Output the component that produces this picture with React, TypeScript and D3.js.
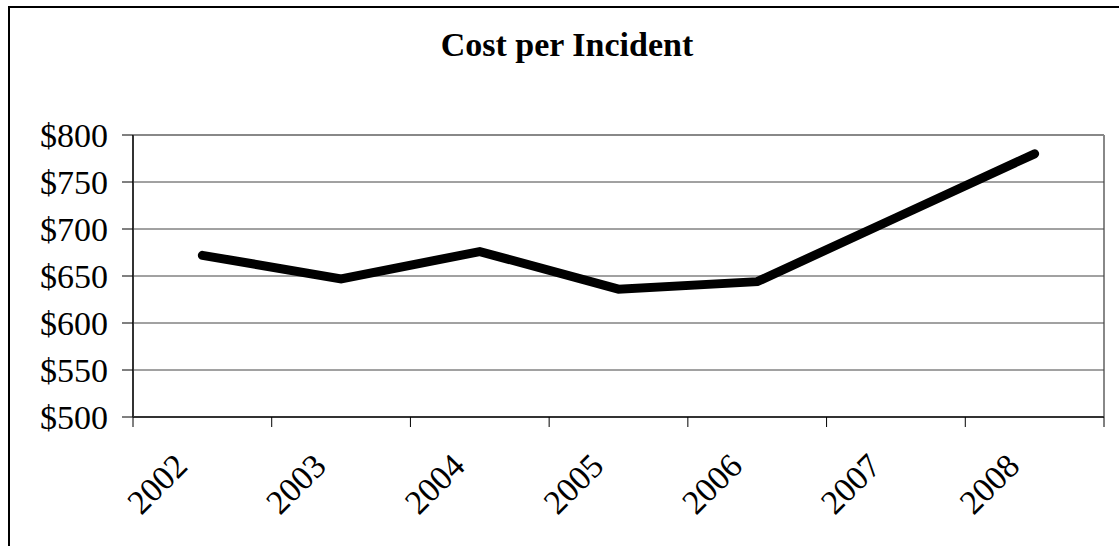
import React from "react";
import * as d3 from "d3";

const years = ["2002", "2003", "2004", "2005", "2006", "2007", "2008"];
const costs = [672, 647, 676, 636, 644, 712, 780];
const yTicks = [500, 550, 600, 650, 700, 750, 800];
const title = "Cost per Incident";

const W = 1119;
const H = 546;
const plot = { left: 133, right: 1104, top: 135, bottom: 417 };

export default function App() {
  const x = d3.scaleBand<string>().domain(years).range([plot.left, plot.right]).padding(0);
  const y = d3.scaleLinear().domain([500, 800]).range([plot.bottom, plot.top]);
  const line = d3
    .line<number>()
    .x((_, i) => (x(years[i]) as number) + x.bandwidth() / 2)
    .y((d) => y(d));
  const font = "'Liberation Serif', 'Times New Roman', serif";
  const tickXs = [...years.map((yr) => x(yr) as number), plot.right];

  return (
    <>
      <style>{`body{margin:0}`}</style>
      <svg width={W} height={H} style={{ display: "block" }} fontFamily={font}>
        <rect x={0} y={0} width={W} height={H} fill="#fff" />
        <rect x={9} y={7} width={W + 20} height={H + 20} fill="none" stroke="#000" strokeWidth={2} />
        <text x={567} y={56} textAnchor="middle" fontSize={34} fontWeight="bold" fill="#000">
          {title}
        </text>
        {/* plot border top/right */}
        <line x1={plot.left} x2={plot.right} y1={plot.top} y2={plot.top} stroke="#888" strokeWidth={2} />
        <line x1={plot.right} x2={plot.right} y1={plot.top} y2={plot.bottom} stroke="#888" strokeWidth={2} />
        {/* gridlines */}
        {yTicks.slice(1, -1).map((t) => (
          <line key={t} x1={plot.left} x2={plot.right} y1={y(t)} y2={y(t)} stroke="#444" strokeWidth={1} />
        ))}
        {/* y axis */}
        <line x1={plot.left} x2={plot.left} y1={plot.top} y2={plot.bottom} stroke="#333" strokeWidth={2} />
        {yTicks.map((t) => (
          <g key={t}>
            <line x1={plot.left - 11} x2={plot.left} y1={y(t)} y2={y(t)} stroke="#000" strokeWidth={1} />
            <text x={108} y={y(t)} dy="0.35em" textAnchor="end" fontSize={34} fill="#000">
              {d3.format("$")(t).replace(".00", "")}
            </text>
          </g>
        ))}
        {/* x axis */}
        <line x1={plot.left} x2={plot.right} y1={plot.bottom} y2={plot.bottom} stroke="#333" strokeWidth={2} />
        {tickXs.map((tx, i) => (
          <line key={i} x1={tx} x2={tx} y1={plot.bottom} y2={plot.bottom + 10} stroke="#000" strokeWidth={1} />
        ))}
        {years.map((yr) => {
          const cx = (x(yr) as number) + x.bandwidth() / 2;
          const ax = cx - 30;
          const ay = plot.bottom + 34;
          return (
            <text
              key={yr}
              x={ax}
              y={ay}
              textAnchor="end"
              dominantBaseline="hanging"
              fontSize={34}
              fill="#000"
              transform={`rotate(-45, ${ax}, ${ay})`}
            >
              {yr}
            </text>
          );
        })}
        <path
          d={line(costs) || ""}
          fill="none"
          stroke="#000"
          strokeWidth={9}
          strokeLinecap="round"
          strokeLinejoin="miter"
        />
      </svg>
    </>
  );
}
